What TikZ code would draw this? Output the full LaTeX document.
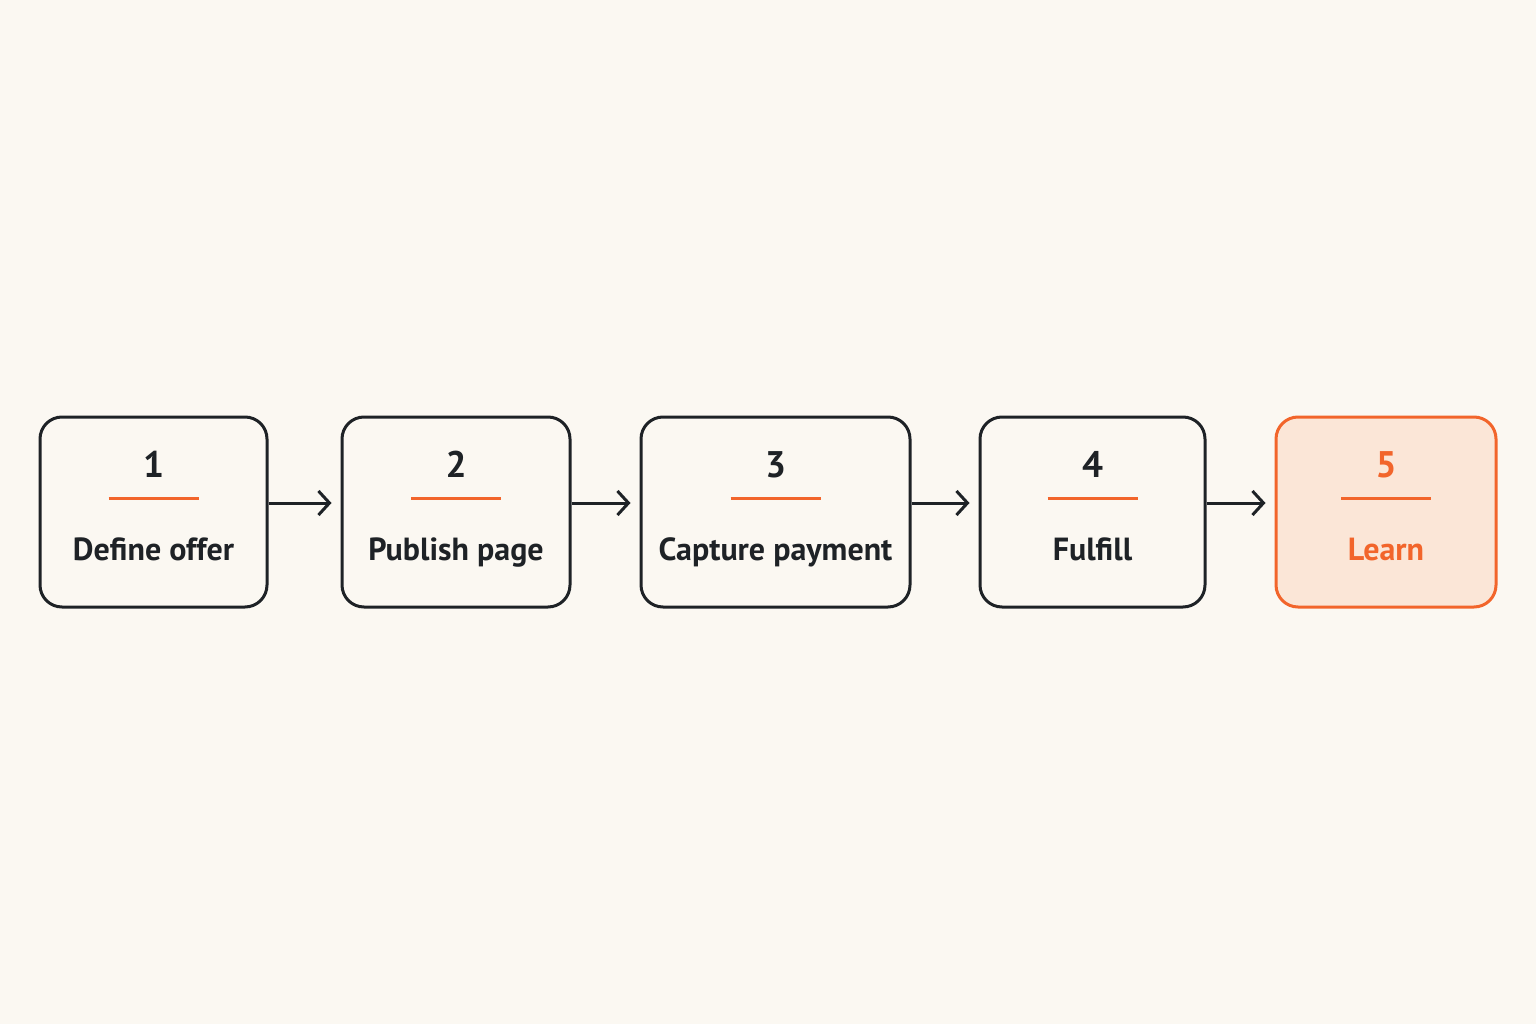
\documentclass[tikz,border=0pt]{standalone}
\usepackage{fontspec}
\setmainfont{PT Sans}
\usetikzlibrary{arrows.meta}
\definecolor{bg}{HTML}{FBF8F2}
\definecolor{ink}{HTML}{1E2226}
\definecolor{accent}{HTML}{F2652B}
\definecolor{accentfill}{HTML}{FBE6D7}
\tikzset{
  stepbox/.style={draw=ink, line width=3pt, rounded corners=22pt, fill=bg, minimum height=190pt, inner sep=0pt},
  lastbox/.style={stepbox, draw=accent, fill=accentfill},
  num/.style={font=\fontsize{37}{40}\selectfont\bfseries, text=ink, inner sep=0pt, anchor=base},
  lbl/.style={font=\fontsize{32}{36}\selectfont\bfseries, text=ink, inner sep=0pt, anchor=base},
  rule/.style={draw=accent, line width=3pt},
  flow/.style={draw=ink, line width=3pt, -{Straight Barb[length=11pt,width=24pt,line width=3pt]}, shorten >=9pt},
}
\begin{document}
\begin{tikzpicture}[x=1pt,y=-1pt]
\fill[bg] (0,0) rectangle (1536,1024);
\useasboundingbox (0,0) rectangle (1536,1024);
\foreach \i/\cx/\w/\t in {1/153.5/227/Define offer, 2/456/228/Publish page, 3/775.5/269/Capture payment, 4/1092.5/225/Fulfill}{
  \node[stepbox, minimum width=\w pt] (b\i) at (\cx,512) {};
  \node[num] (n\i) at (\cx,477) {\i};
  \draw[rule] (\cx-45,498) -- (\cx+45,498);
  \node[lbl] (l\i) at (\cx,560) {\t};
}
\node[lastbox, minimum width=220pt] (b5) at (1386,512) {};
\node[num, text=accent] (n5) at (1386,477) {5};
\draw[rule] (1341,498) -- (1431,498);
\node[lbl, text=accent] (l5) at (1386,560) {Learn};
\draw[flow] (b1.east |- 0,503) -- (b2.west |- 0,503);
\draw[flow] (b2.east |- 0,503) -- (b3.west |- 0,503);
\draw[flow] (b3.east |- 0,503) -- (b4.west |- 0,503);
\draw[flow] (b4.east |- 0,503) -- (b5.west |- 0,503);
\end{tikzpicture}
\end{document}
